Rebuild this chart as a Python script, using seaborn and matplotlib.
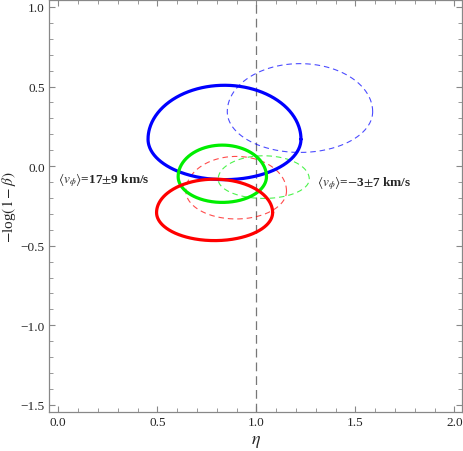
import numpy as np
import pandas as pd
import matplotlib
matplotlib.use("Agg")
import matplotlib.pyplot as plt
from matplotlib.ticker import MultipleLocator
import seaborn as sns

# contour summary (eta, -log(1-beta))
names = ['solid_blue', 'solid_green', 'solid_red', 'dash_blue', 'dash_green', 'dash_red']
eta_c = [0.839, 0.828, 0.789, 1.220, 1.037, 0.898]
beta_c = [0.169, -0.066, -0.292, 0.342, -0.082, -0.157]
eta_hw = [0.386, 0.223, 0.293, 0.367, 0.230, 0.254]
beta_up = [0.339, 0.198, 0.210, 0.302, 0.147, 0.218]
beta_dn = [0.254, 0.162, 0.176, 0.256, 0.121, 0.175]

ann_text = [r'$\langle v_\phi\rangle$=17$\pm$9 km/s', r'$\langle v_\phi\rangle$=$-$3$\pm$7 km/s']
ann_x = [0.0, 1.306]
ann_y = [-0.082, -0.10]

colours = {'blue': '#0000ff', 'green': '#00ee00', 'red': '#ff0000'}

sns.set_style("ticks")
plt.rcParams['font.family'] = ['Liberation Serif', 'DejaVu Serif']
plt.rcParams['mathtext.fontset'] = 'stix'

# build closed curves from the contour summary
t = np.linspace(0, 2 * np.pi, 400)
rows = []
for i, name in enumerate(names):
    s = np.sin(t)
    y = beta_c[i] + np.where(s > 0, beta_up[i], beta_dn[i]) * s
    x = eta_c[i] + eta_hw[i] * np.cos(t)
    for j in range(len(t)):
        rows.append((name, j, x[j], y[j]))
df = pd.DataFrame(rows, columns=['name', 'k', 'eta', 'beta'])

fig = plt.figure(figsize=(4.63, 4.52), dpi=100)
ax = fig.add_axes([49 / 463, 39 / 452, 413 / 463, 412.5 / 452])

ax.axvline(1.0, color='#777777', lw=0.9, linestyle=(0, (7, 4)), zorder=1)

for name in names:
    kind, col = name.split('_')
    sub = df[df['name'] == name]
    if kind == 'solid':
        sns.lineplot(data=sub, x='eta', y='beta', sort=False, estimator=None,
                     color=colours[col], lw=2.3, ax=ax, zorder=3)
    else:
        sns.lineplot(data=sub, x='eta', y='beta', sort=False, estimator=None,
                     color=colours[col], lw=0.8, alpha=0.7,
                     linestyle=(0, (5, 3.5)), ax=ax, zorder=2)

for txt, x, y in zip(ann_text, ann_x, ann_y):
    ax.text(x, y, txt, fontsize=9.5, fontweight='bold', ha='left', va='center')

ax.set_xlim(-0.047, 2.038)
ax.set_ylim(-1.545, 1.047)
ax.xaxis.set_major_locator(MultipleLocator(0.5))
ax.xaxis.set_minor_locator(MultipleLocator(0.1))
ax.yaxis.set_major_locator(MultipleLocator(0.5))
ax.yaxis.set_minor_locator(MultipleLocator(0.1))
ax.xaxis.set_major_formatter(matplotlib.ticker.FormatStrFormatter('%.1f'))
ax.yaxis.set_major_formatter(matplotlib.ticker.FuncFormatter(
    lambda v, p: ('%.1f' % v).replace('-', '\u2212')))

ax.tick_params(which='both', direction='in', top=True, right=True,
               color='#888888', labelsize=9.5, pad=3)
ax.tick_params(which='major', length=4.5, width=0.8)
ax.tick_params(which='minor', length=2.8, width=0.6)
for sp in ax.spines.values():
    sp.set_color('#888888')
    sp.set_linewidth(0.9)

ax.set_xlabel(r'$\eta$', fontsize=13, labelpad=3)
ax.set_ylabel(r'$-$log$(1-\beta)$', fontsize=11, labelpad=2)

fig.savefig('out.png', dpi=100)
